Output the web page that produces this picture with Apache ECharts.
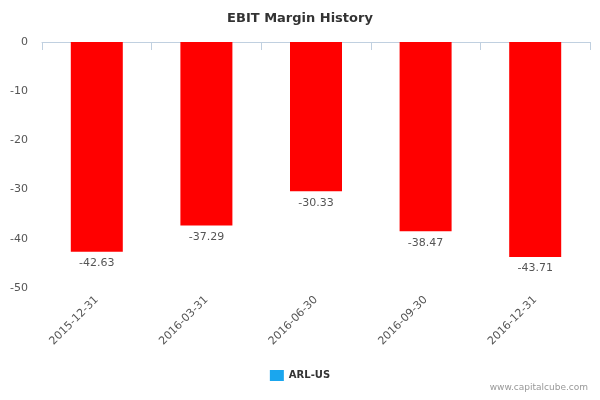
<!DOCTYPE html>
<html><head><meta charset="utf-8">
<script src="https://cdn.jsdelivr.net/npm/echarts@6/dist/echarts.min.js"></script>
<style>html,body{margin:0;padding:0;background:#fff}#c{width:600px;height:400px}</style>
</head><body><div id="c"></div>
<script>
const categories = ['2015-12-31','2016-03-31','2016-06-30','2016-09-30','2016-12-31'];
const values = [-42.63,-37.29,-30.33,-38.47,-43.71];
const yTicks = [0,-10,-20,-30,-40,-50];
const seriesName = 'ARL-US';
const chart = echarts.init(document.getElementById('c'));
chart.setOption({
  animation:false,
  title:{text:'EBIT Margin History',left:'center',top:7,textStyle:{fontFamily:'DejaVu Sans',fontSize:13,fontWeight:'bold',color:'#333'}},
  legend:{data:[{name:seriesName,itemStyle:{color:'#1aa6ee'}}],bottom:14,left:'center',itemWidth:14,itemHeight:11,icon:'rect',
    textStyle:{fontFamily:'DejaVu Sans',fontSize:10,fontWeight:'bold',color:'#333'}},
  graphic:[{type:'text',right:12,bottom:8,style:{text:'www.capitalcube.com',fontFamily:'DejaVu Sans',fontSize:9,fill:'#999'}}],
  grid:{left:42,right:10,top:42,bottom:112},
  xAxis:{type:'category',data:categories,
    axisLine:{lineStyle:{color:'#c0d0e0'}},axisTick:{show:true,length:8,lineStyle:{color:'#c0d0e0'}},
    axisLabel:{rotate:45,fontFamily:'DejaVu Sans',fontSize:11,color:'#555',margin:10}},
  yAxis:{type:'value',min:-50,max:0,interval:10,splitLine:{show:false},axisLine:{show:false},axisTick:{show:false},
    axisLabel:{fontFamily:'DejaVu Sans',fontSize:11,color:'#555',margin:14,formatter:v=>yTicks.includes(v)?String(v):''}},
  series:[{name:seriesName,type:'bar',data:values,barWidth:52,itemStyle:{color:'#ff0000'},
    label:{show:true,position:'bottom',distance:6,fontFamily:'DejaVu Sans',fontSize:11,color:'#555',formatter:p=>p.value.toFixed(2)}}]
});
</script></body></html>
